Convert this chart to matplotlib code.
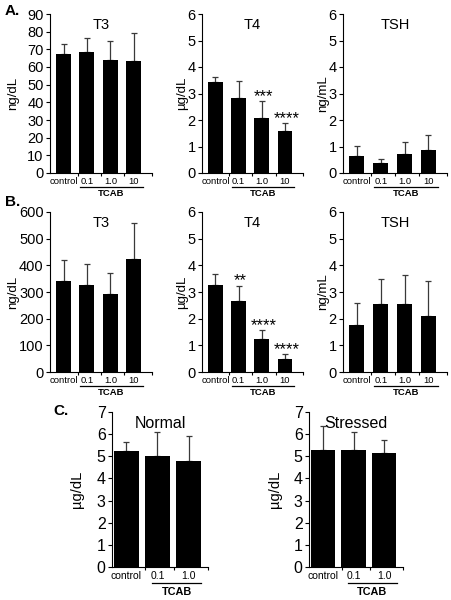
import numpy as np
import matplotlib.pyplot as plt
import matplotlib.transforms as mtransforms

plt.rcParams['font.family'] = ['Liberation Sans', 'DejaVu Sans']

# Values
doses = ['control', '0.1', '1.0', '10']
doses_c = ['control', '0.1', '1.0']

a_t3 = [67.4, 68.5, 64.0, 63.4]
a_t3_err = [5.6, 7.9, 10.9, 15.8]
a_t4 = [3.42, 2.82, 2.08, 1.58]
a_t4_err = [0.19, 0.66, 0.62, 0.31]
a_tsh = [0.63, 0.39, 0.73, 0.88]
a_tsh_err = [0.39, 0.15, 0.44, 0.56]
a_t4_stars = ['', '', '***', '****']

b_t3 = [342, 327, 293, 424]
b_t3_err = [78, 78, 80, 136]
b_t4 = [3.28, 2.67, 1.25, 0.48]
b_t4_err = [0.39, 0.56, 0.32, 0.18]
b_tsh = [1.76, 2.54, 2.54, 2.10]
b_tsh_err = [0.84, 0.93, 1.08, 1.32]
b_t4_stars = ['', '**', '****', '****']

c_normal = [5.26, 5.02, 4.80]
c_normal_err = [0.37, 1.06, 1.10]
c_stressed = [5.29, 5.28, 5.17]
c_stressed_err = [1.06, 0.80, 0.55]

W, H = 452, 600
fig = plt.figure(figsize=(W / 100, H / 100), dpi=100)


def rect(left, right, top, bottom):
    return [left / W, 1 - bottom / H, (right - left) / W, (bottom - top) / H]


def panel(box, vals, errs, labels, title, ylabel, ylabel_x, ymax, ystep,
          stars=None, small=True, width=0.64, xlim=(-0.58, 3.78),
          bounds=(0.6, 1.6, 2.6), line_span=(0.7, 3.4)):
    ax = fig.add_axes(rect(*box))
    x = np.arange(len(vals))
    ax.bar(x, vals, width=width, color='black', zorder=2)
    ax.errorbar(x, vals, yerr=[np.zeros(len(errs)), errs], fmt='none',
                ecolor='#3a3a3a', elinewidth=0.9, capsize=2.5, capthick=0.9,
                zorder=1)
    ax.set_xlim(*xlim)
    ax.set_ylim(0, ymax)
    ax.set_yticks(np.arange(0, ymax + ystep / 2, ystep))
    for s in ('top', 'right'):
        ax.spines[s].set_visible(False)
    for s in ('left', 'bottom'):
        ax.spines[s].set_linewidth(0.8)
    ax.tick_params(axis='y', direction='out', length=3, width=0.8, pad=1.5,
                   labelsize=11.5 if not small else 10.5)
    ax.set_xticks(list(bounds) + [xlim[1]])
    ax.set_xticklabels([])
    ax.tick_params(axis='x', which='major', direction='out', length=2.5,
                   width=0.8)
    ax.set_xticks(x, labels, minor=True)
    if small:
        ax.tick_params(axis='x', which='minor', length=0, pad=3)
        for t in ax.get_xticklabels(minor=True):
            t.set_fontfamily(['Liberation Sans Narrow', 'Liberation Sans'])
            t.set_fontsize(6.8)
    else:
        ax.tick_params(axis='x', which='minor', length=0, pad=3, labelsize=7.5)

    ax.text(0.5, 0.975, title, transform=ax.transAxes,
            ha='center', va='top', fontsize=10.5 if small else 11.5)
    ax.set_ylabel(ylabel, fontsize=9.5 if small else 10.5, va='center')
    ax.yaxis.set_label_coords((ylabel_x - box[0]) / (box[1] - box[0]), 0.5)

    # TCAB grouping line and label under the dosed bars
    axh = (box[3] - box[2])
    line_off, text_off = (13.5, 20.5) if small else (15.7, 24.7)
    tr = mtransforms.blended_transform_factory(ax.transData, ax.transAxes)
    ax.plot(line_span, [-line_off / axh] * 2, color='black', lw=0.9,
            transform=tr, clip_on=False)
    ax.text(np.mean(line_span), -text_off / axh, 'TCAB', transform=tr,
            ha='center', va='center', fontweight='bold',
            fontsize=6.8 if small else 7.8,
            family=['Liberation Sans Narrow', 'Liberation Sans'] if small
            else ['Liberation Sans'])

    if stars:
        for xi, v, e, s in zip(x, vals, errs, stars):
            if s:
                ax.text(xi + 0.08, v + e + ymax * 0.03, s, ha='center',
                        va='center', fontsize=12)
    return ax


# Row A
panel((50, 152, 14, 173), a_t3, a_t3_err, doses, 'T3', 'ng/dL', 13, 90, 10)
panel((202, 303, 14, 173), a_t4, a_t4_err, doses, 'T4', 'µg/dL', 182, 6, 1,
      stars=a_t4_stars)
panel((343, 447, 14, 173), a_tsh, a_tsh_err, doses, 'TSH', 'ng/mL', 323,
      6, 1)

# Row B
panel((50, 152, 212, 372), b_t3, b_t3_err, doses, 'T3', 'ng/dL', 13, 600, 100)
panel((202, 303, 212, 372), b_t4, b_t4_err, doses, 'T4', 'µg/dL', 182, 6, 1,
      stars=b_t4_stars)
panel((343, 447, 212, 372), b_tsh, b_tsh_err, doses, 'TSH', 'ng/mL', 323,
      6, 1)

# Row C
panel((112, 208, 412, 567), c_normal, c_normal_err, doses_c, 'Normal',
      'µg/dL', 77, 7, 1, small=False, width=0.79, xlim=(-0.45, 2.61),
      bounds=(0.61, 1.53), line_span=(0.82, 2.4))
panel((309, 403, 412, 567), c_stressed, c_stressed_err, doses_c, 'Stressed',
      'µg/dL', 275, 7, 1, small=False, width=0.79, xlim=(-0.45, 2.61),
      bounds=(0.61, 1.53), line_span=(0.82, 2.4))

fig.text(5 / W, 1 - 11 / H, 'A.', fontsize=11, fontweight='bold',
         ha='left', va='center')
fig.text(5 / W, 1 - 202 / H, 'B.', fontsize=11, fontweight='bold',
         ha='left', va='center')
fig.text(53 / W, 1 - 411 / H, 'C.', fontsize=11, fontweight='bold',
         ha='left', va='center')

fig.savefig('out.png', dpi=100)
